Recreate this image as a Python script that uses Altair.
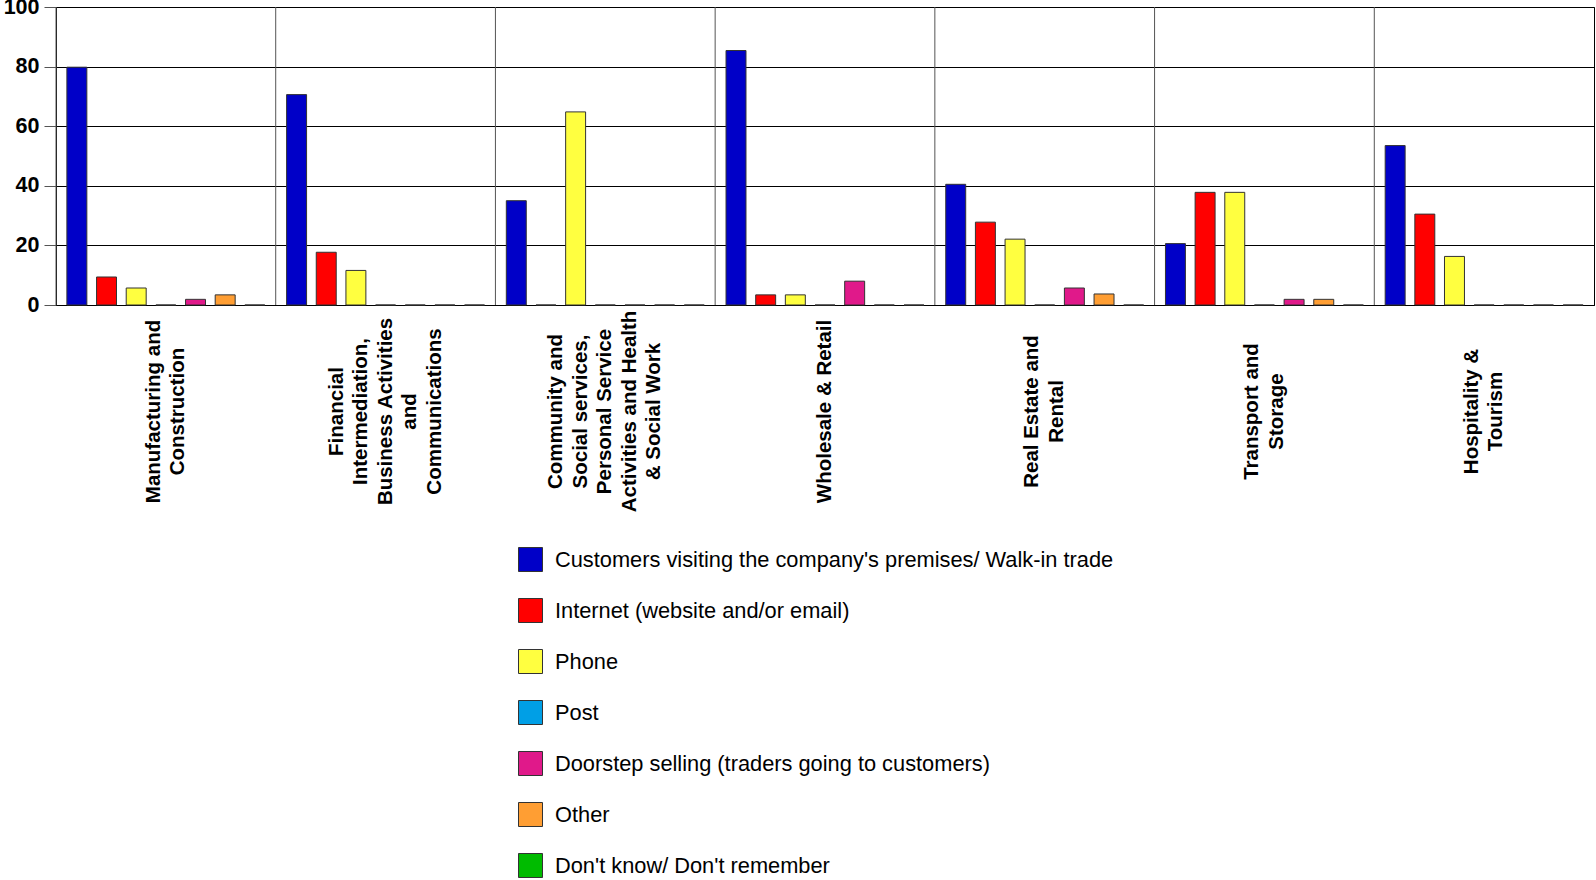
import altair as alt
import pandas as pd

categories = [
    "Manufacturing and|Construction",
    "Financial|Intermediation,|Business Activities|and|Communications",
    "Community and|Social services,|Personal Service|Activities and Health|& Social Work",
    "Wholesale & Retail",
    "Real Estate and|Rental",
    "Transport and|Storage",
    "Hospitality &|Tourism",
]

series = [
    "Customers visiting the company's premises/ Walk-in trade",
    "Internet (website and/or email)",
    "Phone",
    "Post",
    "Doorstep selling (traders going to customers)",
    "Other",
    "Don't know/ Don't remember",
]

colors = ["#0000C8", "#FF0000", "#FFFF40", "#009FE6", "#E0198A", "#FF9E33", "#00BB00"]

walk_in   = [79.8, 70.6, 35.0, 85.4, 40.5, 20.6, 53.5]
internet  = [9.4, 17.7, 0, 3.4, 27.8, 37.8, 30.5]
phone     = [5.7, 11.6, 64.8, 3.4, 22.1, 37.8, 16.3]
post      = [0, 0, 0, 0, 0, 0, 0]
doorstep  = [1.9, 0, 0, 8.0, 5.7, 1.9, 0]
other     = [3.4, 0, 0, 0, 3.7, 1.9, 0]
dont_know = [0, 0, 0, 0, 0, 0, 0]

values = [walk_in, internet, phone, post, doorstep, other, dont_know]

rows = []
for s, vals in zip(series, values):
    for c, v in zip(categories, vals):
        rows.append({"cat": c, "series": s, "value": v})
df = pd.DataFrame(rows)
cat_df = pd.DataFrame({"cat": categories})

LINE_H = 24.5

label_shift = {
    "condition": [
        {"test": "length(split(datum.label, '|')) == 5", "value": -2 * LINE_H},
        {"test": "length(split(datum.label, '|')) == 2", "value": -0.5 * LINE_H},
    ],
    "value": 0,
}

x_axis = alt.Axis(
    labelExpr="split(datum.label, '|')",
    labelAngle=270,
    labelAlign="center",
    labelBaseline="middle",
    labelPadding=106,
    labelOffset=label_shift,
    labelFontSize=20.5,
    labelFontWeight="bold",
    labelFont="Liberation Sans",
    labelColor="black",
    labelLineHeight=LINE_H,
    labelLimit=0,
    labelOverlap=False,
    ticks=False,
    tickSize=0,
    domain=True,
    domainColor="black",
    grid=False,
)

bars = alt.Chart(df).mark_bar(stroke="#333333", strokeWidth=1).encode(
    x=alt.X(
        "cat:N",
        sort=categories,
        scale=alt.Scale(paddingInner=0, paddingOuter=0),
        title=None,
        axis=x_axis,
    ),
    xOffset=alt.XOffset(
        "series:N",
        sort=series,
        scale=alt.Scale(paddingInner=0.327, paddingOuter=0.367),
    ),
    y=alt.Y(
        "value:Q",
        scale=alt.Scale(domain=[0, 100], nice=False),
        title=None,
        axis=alt.Axis(
            values=[0, 20, 40, 60, 80, 100],
            labelFontSize=21.5,
            labelFontWeight="bold",
            labelFont="Liberation Sans",
            labelColor="black",
            labelPadding=5,
            tickSize=12,
            tickColor="#555555",
            domainColor="black",
            gridColor="black",
            gridWidth=1,
            gridOpacity=1,
        ),
    ),
    color=alt.Color(
        "series:N",
        sort=series,
        scale=alt.Scale(domain=series, range=colors),
        legend=alt.Legend(
            title=None,
            orient="none",
            legendX=462,
            legendY=540,
            direction="vertical",
            symbolType="square",
            symbolSize=576,
            symbolStrokeColor="#333333",
            symbolStrokeWidth=1,
            symbolOpacity=1,
            labelFontSize=21.8,
            labelFont="Liberation Sans",
            labelColor="black",
            labelOffset=12,
            labelLimit=0,
            rowPadding=22,
            padding=0,
        ),
    ),
)

dividers = alt.Chart(cat_df).mark_rule(color="#555555", strokeWidth=1).encode(
    x=alt.X("cat:N", sort=categories, bandPosition=0, title=None, axis=x_axis),
)

chart = (
    alt.layer(bars, dividers)
    .properties(
        width=1538,
        height=298,
        autosize=alt.AutoSizeParams(type="none"),
        padding={"left": 56, "top": 7, "right": 2, "bottom": 575},
        background="white",
    )
    .configure_view(stroke="black", strokeWidth=1)
)

chart.save("out.html", embed_options={"renderer": "svg", "actions": False})
